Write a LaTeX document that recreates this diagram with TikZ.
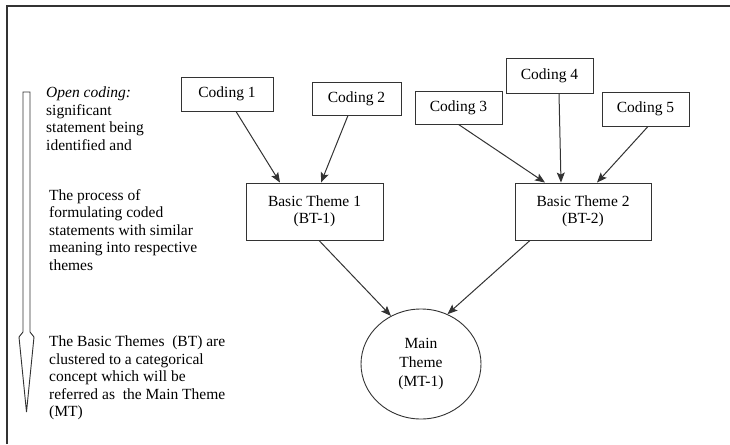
\documentclass[tikz,border=0pt]{standalone}
\usepackage{fontspec}
\setmainfont{Liberation Serif}
\usepackage{tikz}
\usetikzlibrary{arrows.meta,shapes.geometric}
\usepackage{xcolor}

\tikzset{
  trait/.style={draw=black!80, line width=0.9pt},
  boite/.style={trait, rectangle, inner sep=0pt, align=center},
  fleche/.style={draw=black!80, line width=1pt, -{Stealth[length=10pt,width=8pt,inset=2pt]}},
  texte/.style={anchor=north west, inner sep=0pt, align=left}
}

\begin{document}
\begin{tikzpicture}[x=1pt, y=-1pt, font=\fontsize{15.5}{17.5}\selectfont] % 1 unité = 1 pixel
\useasboundingbox (0,0) rectangle (730,444);

% Le cadre (seuls les bords gauche et haut sont visibles)
\draw[trait, line width=1.2pt] (7,444) -- (7,6) -- (730,6);

% La grande flèche creuse à gauche
\draw[trait] (23,92) -- (30,92) -- (30,332) -- (34,337) -- (26.5,412)
  -- (19,337) -- (23,332) -- cycle;

% Les textes à gauche
\node[texte] (t1) at (46,87) {\textit{Open coding:}\\ significant\\ statement being\\ identified and};
\node[texte] (t2) at (49,189) {The process of\\ formulating coded\\ statements with similar\\ meaning into respective\\ themes};
\node[texte] (t3) at (49,336) {The Basic Themes\ \ (BT) are\\ clustered to a categorical\\ concept which will be\\ referred as\ \ the Main Theme\\ (MT)};

% Les codages
\node[boite, minimum width=92, minimum height=34] (c1) at (227,94) {Coding 1};
\node[boite, minimum width=89, minimum height=33] (c2) at (356.5,98.5) {Coding 2};
\node[boite, minimum width=87, minimum height=33] (c3) at (458.5,107.5) {Coding 3};
\node[boite, minimum width=87, minimum height=35] (c4) at (549.5,75.5) {Coding 4};
\node[boite, minimum width=87, minimum height=34] (c5) at (645.5,109) {Coding 5};

% Les thèmes de base
\node[boite, minimum width=137, minimum height=57] (bt1) at (314.5,211.5) {Basic Theme 1\\ (BT-1)};
\node[boite, minimum width=136, minimum height=57] (bt2) at (583,211.5) {Basic Theme 2\\ (BT-2)};

% Le thème principal
\node[trait, ellipse, minimum width=120, minimum height=110, inner sep=0pt, align=center,
  font=\fontsize{15.5}{19}\selectfont] (mt) at (421,364) {Main\\ Theme\\ (MT-1)};

% Les flèches
\draw[fleche] ([xshift=9]c1.south) -- ([xshift=-34.5]bt1.north);
\draw[fleche] ([xshift=-8.5]c2.south) -- ([xshift=6.5]bt1.north);
\draw[fleche] (c3.south) -- ([xshift=-38]bt2.north);
\draw[fleche] ([xshift=9.5]c4.south) -- ([xshift=-22]bt2.north);
\draw[fleche] ([xshift=2.5]c5.south) -- ([xshift=14]bt2.north);
\draw[fleche] ([xshift=4.5]bt1.south) -- (mt.122);
\draw[fleche] ([xshift=-53]bt2.south) -- (mt.62);
\end{tikzpicture}
\end{document}
